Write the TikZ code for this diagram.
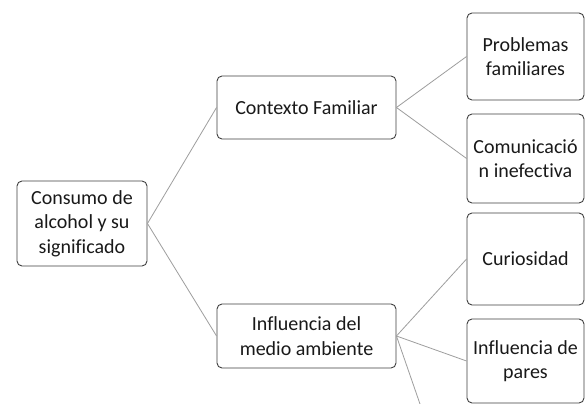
\documentclass[tikz,border=0pt]{standalone}
\usepackage{fontspec}
\setmainfont{Carlito}[Ligatures=NoCommon]
\begin{document}
\begin{tikzpicture}[x=1pt,y=-1pt,
  box/.style={draw=black!75, line width=0.9pt, rounded corners=5pt, align=center,
    inner sep=2pt, font=\fontsize{20}{24.4}\selectfont, text=black!90},
  link/.style={draw=black!38, line width=0.8pt}]
\useasboundingbox[fill=white] (0,0) rectangle (586,404);
\node[box, minimum width=130pt, minimum height=85pt] (root) at (82,223.5) {Consumo de\\alcohol y su\\significado};
\node[box, minimum width=179pt, minimum height=63pt] (ctx) at (306.5,107.5) {Contexto Familiar};
\node[box, minimum width=179pt, minimum height=64pt] (inf) at (306.5,336) {Influencia del\\medio ambiente};
\node[box, minimum width=117pt, minimum height=87pt] (prob) at (525.5,56.5) {Problemas\\familiares};
\node[box, minimum width=117pt, minimum height=89pt] (com) at (525.5,158.5) {Comunicació\\n inefectiva};
\node[box, minimum width=117pt, minimum height=92pt] (cur) at (525.5,259) {Curiosidad};
\node[box, minimum width=117pt, minimum height=84pt] (par) at (525.5,361) {Influencia de\\pares};
\coordinate (off) at (420,404);
\draw[link] (root.east) -- (ctx.west);
\draw[link] (root.east) -- (inf.west);
\draw[link] (ctx.east) -- (prob.west);
\draw[link] (ctx.east) -- (com.west);
\draw[link] (inf.east) -- (cur.west);
\draw[link] (inf.east) -- (par.west);
\draw[link] (inf.east) -- (off);
\end{tikzpicture}
\end{document}
